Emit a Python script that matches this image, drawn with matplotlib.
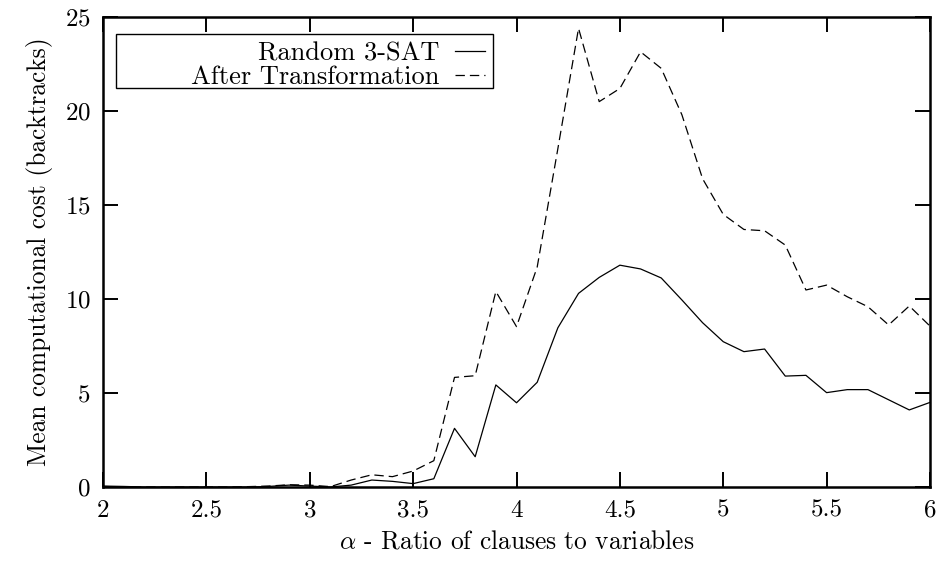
import matplotlib
matplotlib.use('Agg')
import matplotlib.pyplot as plt
from matplotlib.patches import Rectangle
from matplotlib.ticker import FormatStrFormatter

plt.rcParams['font.family'] = 'serif'
plt.rcParams['font.serif'] = ['cmr10', 'DejaVu Serif']
plt.rcParams['mathtext.fontset'] = 'cm'
plt.rcParams['axes.formatter.use_mathtext'] = True

# === data ===
alpha = [2.0, 2.1, 2.2, 2.3, 2.4, 2.5, 2.6, 2.7, 2.8, 2.9,
         3.0, 3.1, 3.2, 3.3, 3.4, 3.5, 3.6, 3.7, 3.8, 3.9,
         4.0, 4.1, 4.2, 4.3, 4.4, 4.5, 4.6, 4.7, 4.8, 4.9,
         5.0, 5.1, 5.2, 5.3, 5.4, 5.5, 5.6, 5.7, 5.8, 5.9, 6.0]

random_3sat = [0.05, 0.03, 0.0, 0.0, 0.0, 0.0, 0.0, 0.0, 0.03, 0.1,
               0.05, 0.0, 0.1, 0.37, 0.3, 0.18, 0.44, 3.12, 1.61, 5.43,
               4.48, 5.57, 8.47, 10.3, 11.15, 11.8, 11.6, 11.12, 9.95, 8.74,
               7.73, 7.2, 7.34, 5.9, 5.94, 5.02, 5.18, 5.18, 4.64, 4.1, 4.5]

after_transform = [0.03, 0.0, 0.0, 0.0, 0.0, 0.0, 0.0, 0.02, 0.05, 0.12,
                   0.1, 0.02, 0.37, 0.65, 0.55, 0.85, 1.4, 5.83, 5.92, 10.4,
                   8.53, 11.7, 18.0, 24.4, 20.5, 21.2, 23.15, 22.27, 19.8, 16.4,
                   14.5, 13.7, 13.63, 12.87, 10.48, 10.74, 10.12, 9.59, 8.62, 9.63, 8.56]

x_ticks = [2, 2.5, 3, 3.5, 4, 4.5, 5, 5.5, 6]
y_ticks = [0, 5, 10, 15, 20, 25]

fig = plt.figure(figsize=(9.37, 5.68), dpi=100)
ax = fig.add_axes([0.110, 0.1426, 0.8825, 0.8274])

ax.plot(alpha, random_3sat, color='black', lw=0.9, label='Random 3-SAT')
ax.plot(alpha, after_transform, color='black', lw=0.9, dashes=(7.5, 4),
        label='After Transformation')

ax.set_xlim(2, 6)
ax.set_ylim(0, 25)
ax.set_xticks(x_ticks)
ax.set_yticks(y_ticks)
ax.xaxis.set_major_formatter(FormatStrFormatter('%g'))
ax.tick_params(direction='in', length=11, width=1.4, labelsize=18,
               top=True, right=True, pad=9)
for sp in ax.spines.values():
    sp.set_linewidth(1.8)

ax.set_xlabel(r'$\alpha$ - Ratio of clauses to variables', fontsize=18.3, labelpad=6)
ax.set_ylabel('Mean computational cost (backtracks)', fontsize=18.3, labelpad=8)

# gnuplot-style key: right-aligned text, sample after text, wide box
leg = ax.legend(loc='upper right', bbox_to_anchor=(0.4716, 0.964),
                markerfirst=False, frameon=False, fontsize=19,
                handlelength=1.15, handletextpad=0.6, labelspacing=0.0,
                borderpad=0.3, borderaxespad=0.0)
ax.add_patch(Rectangle((0.0157, 0.849), 0.4716 - 0.0157, 0.964 - 0.849,
                       transform=ax.transAxes, fill=False, lw=1.0,
                       edgecolor='black', zorder=5))

fig.savefig('out.png', dpi=100)
plt.close(fig)
